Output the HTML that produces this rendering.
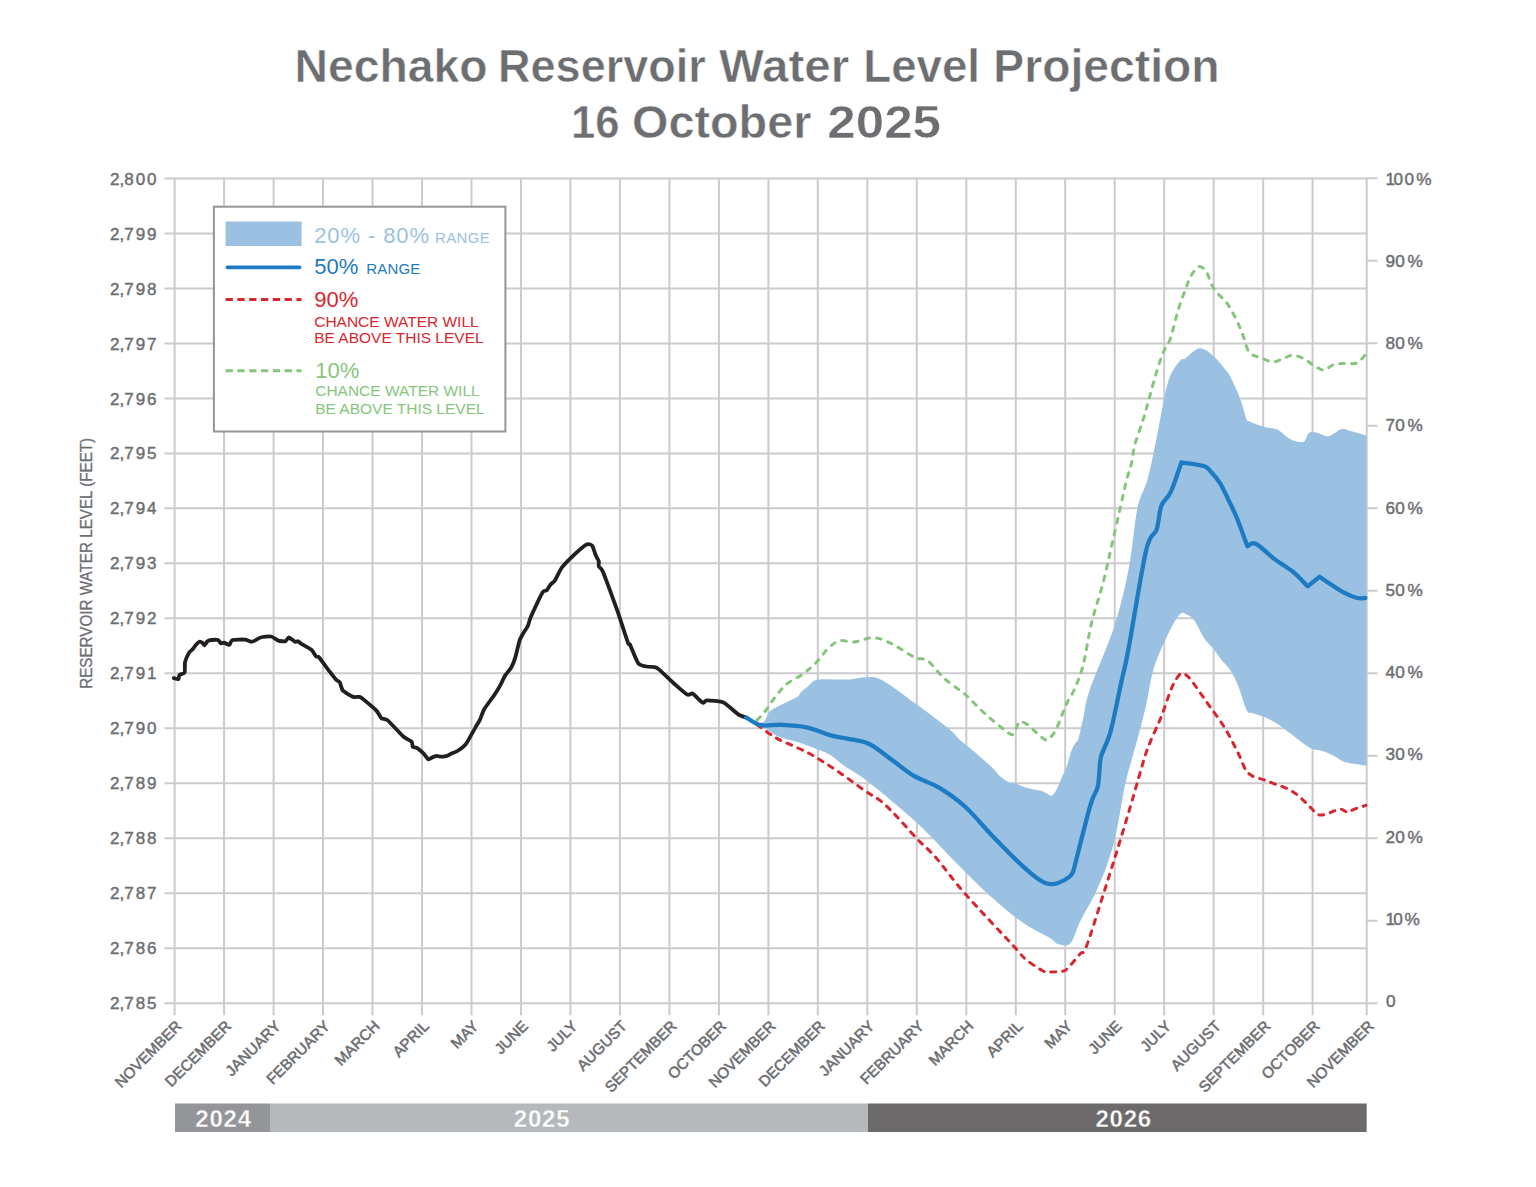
<!DOCTYPE html>
<html><head><meta charset="utf-8"><title>Nechako Reservoir Water Level Projection</title>
<style>html,body{margin:0;padding:0;background:#fff;}body{width:1536px;height:1187px;position:relative;overflow:hidden;font-family:"Liberation Sans",sans-serif;}</style>
</head><body>
<svg width="1536" height="1187" viewBox="0 0 1536 1187" style="position:absolute;left:0;top:0">
<path d="M164.5 178.4H1366.7 M164.5 233.4H1366.7 M164.5 288.4H1366.7 M164.5 343.4H1366.7 M164.5 398.4H1366.7 M164.5 453.4H1366.7 M164.5 508.3H1366.7 M164.5 563.3H1366.7 M164.5 618.3H1366.7 M164.5 673.3H1366.7 M164.5 728.3H1366.7 M164.5 783.3H1366.7 M164.5 838.3H1366.7 M164.5 893.3H1366.7 M164.5 948.3H1366.7 M164.5 1003.2H1366.7 M174.6 178.4V1015.2 M224.1 178.4V1015.2 M273.6 178.4V1015.2 M323.0 178.4V1015.2 M372.5 178.4V1015.2 M422.0 178.4V1015.2 M471.5 178.4V1015.2 M521.0 178.4V1015.2 M570.4 178.4V1015.2 M619.9 178.4V1015.2 M669.4 178.4V1015.2 M718.9 178.4V1015.2 M768.4 178.4V1015.2 M817.8 178.4V1015.2 M867.3 178.4V1015.2 M916.8 178.4V1015.2 M966.3 178.4V1015.2 M1015.8 178.4V1015.2 M1065.2 178.4V1015.2 M1114.7 178.4V1015.2 M1164.2 178.4V1015.2 M1213.7 178.4V1015.2 M1263.2 178.4V1015.2 M1312.6 178.4V1015.2 M1366.7 178.4V1015.2 M1366.7 1003.2H1377.5 M1366.7 920.8H1377.5 M1366.7 838.2H1377.5 M1366.7 755.8H1377.5 M1366.7 673.2H1377.5 M1366.7 590.8H1377.5 M1366.7 508.2H1377.5 M1366.7 425.8H1377.5 M1366.7 343.2H1377.5 M1366.7 260.8H1377.5 M1366.7 178.2H1377.5" stroke="#cbcbce" stroke-width="2" fill="none"/>
<path d="M755.0 723.0 C756.5 722.8 761.1 723.8 763.7 721.8 C766.3 719.8 767.0 714.0 770.4 711.0 C773.8 708.0 779.4 706.0 783.9 703.6 C788.4 701.2 794.5 698.7 797.4 696.8 C800.2 694.9 799.3 693.8 801.0 692.1 C802.7 690.4 805.0 688.7 807.5 686.7 C810.0 684.7 811.9 681.2 816.3 680.0 C820.7 678.8 828.1 679.5 833.8 679.4 C839.4 679.3 845.2 679.8 850.4 679.4 C855.6 679.0 859.8 677.2 865.0 677.3 C870.2 677.4 873.4 675.7 881.7 680.0 C890.0 684.3 903.9 695.2 915.0 703.3 C926.1 711.3 940.8 722.2 948.3 728.3 C955.8 734.4 956.5 736.8 960.0 740.0 C963.5 743.2 965.4 744.2 969.3 747.5 C973.2 750.8 979.0 755.8 983.2 759.5 C987.4 763.2 991.5 766.9 994.3 769.7 C997.1 772.5 997.6 774.2 999.9 776.2 C1002.2 778.2 1005.6 780.6 1008.2 781.8 C1010.8 783.0 1012.8 782.7 1015.6 783.6 C1018.4 784.5 1021.8 786.3 1024.9 787.3 C1028.0 788.3 1031.3 789.0 1034.1 789.6 C1036.9 790.2 1039.4 790.3 1041.6 791.0 C1043.8 791.7 1045.4 793.0 1047.1 793.8 C1048.8 794.6 1050.2 796.3 1051.8 795.7 C1053.3 795.1 1054.7 793.2 1056.4 790.1 C1058.1 787.0 1060.2 781.0 1061.9 777.1 C1063.6 773.2 1065.0 771.2 1066.6 766.9 C1068.1 762.6 1069.8 755.1 1071.2 751.2 C1072.6 747.4 1073.7 746.0 1074.9 743.8 C1076.1 741.6 1077.2 742.5 1078.6 738.2 C1080.0 733.9 1081.4 725.8 1083.3 717.8 C1085.2 709.8 1084.5 705.3 1089.7 690.0 C1094.9 674.7 1107.9 646.2 1114.4 626.0 C1120.9 605.8 1124.9 588.3 1128.7 568.8 C1132.5 549.2 1134.2 523.6 1137.3 508.7 C1140.4 493.8 1144.4 490.7 1147.5 479.6 C1150.6 468.5 1153.0 455.7 1155.8 442.1 C1158.6 428.6 1161.8 409.4 1164.2 398.3 C1166.6 387.2 1167.6 381.8 1170.4 375.4 C1173.2 369.0 1178.4 362.6 1180.8 359.8 C1183.2 357.0 1181.9 360.7 1185.0 358.8 C1188.1 356.8 1194.7 348.6 1199.6 348.3 C1204.5 348.0 1209.7 352.9 1214.2 356.7 C1218.7 360.5 1224.1 368.0 1226.7 371.2 C1229.3 374.5 1227.8 371.6 1230.0 376.0 C1232.2 380.4 1237.2 390.8 1239.9 397.9 C1242.6 405.0 1245.0 414.8 1246.4 418.7 C1247.8 422.6 1245.8 419.7 1248.5 421.0 C1251.2 422.3 1258.7 425.1 1262.9 426.4 C1267.1 427.7 1271.1 427.9 1273.8 428.6 C1276.5 429.3 1276.8 429.2 1279.3 430.8 C1281.8 432.4 1286.0 436.6 1289.1 438.4 C1292.2 440.2 1295.3 441.2 1297.9 441.7 C1300.5 442.2 1302.7 442.6 1304.5 441.2 C1306.3 439.8 1306.9 434.5 1308.9 433.0 C1310.9 431.5 1313.2 431.9 1316.5 432.4 C1319.8 432.9 1324.4 436.8 1328.6 436.2 C1332.8 435.6 1337.9 429.9 1341.7 429.1 C1345.5 428.3 1347.5 430.2 1351.6 431.3 C1355.7 432.4 1364.0 435.0 1366.5 435.7 L1366.5 765.8 C1364.4 765.5 1357.7 764.5 1353.9 763.8 C1350.1 763.1 1347.2 763.1 1343.8 761.8 C1340.4 760.4 1337.4 757.6 1333.7 755.7 C1330.0 753.9 1325.6 752.1 1321.6 750.7 C1317.5 749.4 1316.2 751.7 1309.4 747.6 C1302.7 743.5 1288.5 731.5 1281.1 726.4 C1273.7 721.3 1269.6 719.5 1264.9 717.3 C1260.2 715.1 1255.8 714.4 1252.8 713.2 C1249.8 712.0 1249.1 714.6 1246.7 710.2 C1244.3 705.8 1241.3 693.6 1238.6 687.0 C1235.9 680.4 1233.6 675.5 1230.6 670.8 C1227.6 666.1 1223.4 662.5 1220.4 658.6 C1217.4 654.7 1215.1 650.9 1212.4 647.5 C1209.7 644.1 1207.3 642.9 1204.3 638.4 C1201.3 633.9 1197.2 624.2 1194.2 620.2 C1191.2 616.2 1188.4 615.2 1186.0 614.2 C1183.6 613.2 1182.5 611.8 1180.0 614.2 C1177.5 616.6 1175.1 620.0 1170.8 628.7 C1166.5 637.4 1158.4 653.6 1154.3 666.5 C1150.2 679.4 1148.9 693.4 1145.9 706.2 C1142.9 719.0 1139.8 730.2 1136.4 743.1 C1133.0 756.0 1128.7 768.8 1125.3 783.9 C1121.9 799.0 1119.1 820.3 1116.0 833.9 C1112.9 847.5 1110.1 855.8 1106.8 865.5 C1103.5 875.2 1098.5 886.2 1096.0 892.0 C1093.5 897.8 1094.6 895.0 1091.9 900.0 C1089.2 905.0 1083.6 914.6 1080.0 921.8 C1076.4 929.0 1074.1 939.5 1070.4 943.2 C1066.7 946.9 1061.4 944.9 1058.0 944.0 C1054.6 943.1 1056.0 941.7 1049.9 938.0 C1043.8 934.3 1032.4 929.6 1021.6 921.8 C1010.8 914.0 997.1 902.2 985.2 891.4 C973.4 880.6 961.9 868.4 950.5 857.0 C939.1 845.6 930.5 835.4 917.0 823.0 C903.5 810.6 881.3 792.0 869.2 782.5 C857.1 773.0 850.7 770.4 844.2 765.8 C837.7 761.2 834.4 757.5 830.0 754.8 C825.6 752.1 823.0 751.5 817.6 749.4 C812.2 747.3 804.1 744.2 797.4 742.0 C790.7 739.8 782.8 738.4 777.2 735.9 C771.6 733.4 767.4 729.1 763.7 727.2 C760.0 725.3 756.5 725.0 755.0 724.5 Z" fill="#9bc1e2"/>
<path d="M757.0 724.8 C759.5 726.5 767.6 732.5 771.7 735.2 C775.8 737.9 775.5 737.8 781.7 740.8 C787.9 743.8 799.7 748.4 808.8 753.3 C817.8 758.2 826.4 763.8 835.8 770.0 C845.2 776.2 857.6 785.7 865.0 790.8 C872.4 795.9 875.1 796.6 880.0 800.4 C884.9 804.2 888.0 807.4 894.2 813.8 C900.4 820.1 910.1 831.5 917.0 838.8 C923.9 846.0 927.8 848.4 935.8 857.5 C943.8 866.6 951.9 878.8 964.9 893.5 C977.9 908.2 1003.4 935.0 1013.5 946.0 C1023.6 957.0 1020.9 955.2 1025.6 959.2 C1030.3 963.2 1038.1 968.2 1041.8 970.3 C1045.5 972.4 1044.6 971.8 1048.0 972.0 C1051.4 972.2 1058.8 971.8 1062.0 971.3 C1065.2 970.8 1064.2 971.7 1067.2 968.8 C1070.2 965.9 1076.8 957.8 1080.0 954.1 C1083.2 950.4 1082.6 956.2 1086.4 946.4 C1090.2 936.6 1098.5 909.5 1103.1 895.1 C1107.7 880.7 1111.1 869.8 1114.2 859.9 C1117.3 850.0 1118.5 846.0 1121.6 835.8 C1124.7 825.6 1129.0 811.4 1132.7 798.7 C1136.4 786.0 1141.0 769.2 1143.9 759.7 C1146.9 750.2 1147.9 747.8 1150.4 741.6 C1152.9 735.4 1156.6 727.7 1158.7 722.7 C1160.8 717.8 1161.1 717.4 1163.1 711.9 C1165.1 706.4 1168.7 695.2 1170.8 690.0 C1172.9 684.8 1173.9 683.2 1175.5 680.5 C1177.1 677.8 1178.8 674.8 1180.5 673.8 C1182.2 672.8 1183.7 673.4 1185.5 674.5 C1187.3 675.6 1189.1 677.5 1191.5 680.5 C1193.9 683.5 1196.9 688.0 1200.0 692.5 C1203.1 697.0 1206.2 701.4 1210.3 707.2 C1214.4 713.0 1220.3 720.6 1224.5 727.4 C1228.7 734.2 1233.0 742.9 1235.7 748.1 C1238.4 753.4 1239.2 755.3 1240.8 758.9 C1242.4 762.5 1244.0 767.0 1245.5 769.6 C1247.0 772.2 1248.2 773.2 1250.0 774.5 C1251.8 775.8 1253.7 776.6 1256.0 777.5 C1258.3 778.4 1260.8 778.7 1264.0 779.8 C1267.2 780.9 1271.4 782.7 1275.1 784.1 C1278.8 785.5 1282.8 786.6 1286.3 788.2 C1289.8 789.8 1292.9 791.6 1296.0 793.9 C1299.1 796.1 1302.2 799.3 1304.8 801.7 C1307.4 804.1 1309.3 806.2 1311.4 808.3 C1313.5 810.4 1315.1 813.4 1317.5 814.4 C1319.9 815.4 1321.9 815.2 1325.6 814.4 C1329.3 813.5 1336.1 809.6 1339.8 809.3 C1343.5 808.9 1345.4 812.3 1347.8 812.3 C1350.2 812.3 1350.9 810.5 1353.9 809.3 C1356.9 808.1 1364.0 806.0 1366.0 805.3" fill="none" stroke="#d8262e" stroke-width="3" stroke-dasharray="5 6.8" stroke-linecap="round" stroke-linejoin="round"/>
<path d="M757.0 720.0 C757.8 719.2 760.4 716.7 762.0 715.0 C763.6 713.3 764.8 711.8 766.4 709.6 C768.0 707.4 769.7 704.5 771.8 701.6 C773.9 698.7 776.7 695.0 779.2 692.1 C781.7 689.2 782.7 687.0 786.6 684.0 C790.5 681.0 797.8 677.6 802.5 674.2 C807.2 670.8 810.5 668.3 815.0 663.8 C819.5 659.2 825.4 650.8 829.6 647.0 C833.8 643.2 835.8 641.6 840.0 640.8 C844.2 639.9 849.1 642.4 854.6 641.9 C860.1 641.4 867.4 637.5 873.3 637.7 C879.2 637.9 883.0 639.6 890.0 642.9 C897.0 646.2 908.8 654.5 915.0 657.5 C921.2 660.5 922.6 657.1 927.5 660.6 C932.4 664.1 938.3 673.0 944.2 678.3 C950.1 683.6 958.6 689.2 962.8 692.5 C967.0 695.8 966.8 695.9 969.3 698.3 C971.8 700.7 974.8 704.0 977.6 706.7 C980.4 709.4 983.1 712.0 986.0 714.6 C988.9 717.2 992.1 719.9 995.2 722.4 C998.3 724.9 1001.9 727.9 1004.5 729.9 C1007.1 731.9 1009.3 734.0 1011.0 734.5 C1012.7 735.0 1013.4 734.5 1014.5 733.0 C1015.6 731.5 1016.6 727.1 1017.5 725.2 C1018.4 723.3 1018.3 721.6 1020.0 721.5 C1021.7 721.4 1024.9 722.9 1027.7 724.8 C1030.5 726.7 1034.2 730.7 1036.9 733.1 C1039.6 735.5 1042.2 737.9 1044.0 739.0 C1045.8 740.1 1045.9 740.4 1047.5 739.5 C1049.1 738.6 1051.6 736.5 1053.6 733.6 C1055.5 730.8 1057.5 726.3 1059.2 722.4 C1060.9 718.5 1062.3 714.1 1063.8 710.4 C1065.3 706.7 1066.7 703.6 1068.4 700.2 C1070.1 696.8 1071.6 695.7 1074.0 690.0 C1076.4 684.3 1080.0 677.2 1082.9 666.1 C1085.8 655.0 1088.2 637.0 1091.5 623.2 C1094.8 609.4 1099.7 596.0 1103.0 583.1 C1106.3 570.2 1108.8 558.3 1111.6 545.9 C1114.4 533.5 1117.6 519.8 1120.1 508.7 C1122.6 497.6 1124.8 487.2 1126.7 479.6 C1128.6 472.0 1130.2 468.8 1131.6 462.9 C1133.0 457.0 1133.0 451.5 1135.0 444.2 C1137.0 436.9 1141.0 426.7 1143.3 419.2 C1145.6 411.7 1147.0 406.1 1149.0 399.0 C1151.0 391.9 1153.0 383.9 1155.3 376.3 C1157.6 368.7 1160.3 359.8 1162.8 353.5 C1165.3 347.2 1167.9 345.5 1170.4 338.4 C1172.9 331.2 1175.5 318.8 1178.0 310.6 C1180.5 302.4 1183.4 294.8 1185.6 289.0 C1187.8 283.2 1188.9 279.7 1191.0 276.0 C1193.1 272.3 1196.2 268.3 1198.2 267.0 C1200.2 265.7 1201.5 267.1 1203.0 268.0 C1204.5 268.9 1205.5 269.8 1207.0 272.7 C1208.5 275.6 1210.1 281.8 1212.0 285.4 C1213.9 289.0 1216.1 291.5 1218.4 294.2 C1220.7 296.9 1223.7 298.9 1226.0 301.8 C1228.3 304.8 1230.2 308.1 1232.3 311.9 C1234.4 315.7 1236.7 320.3 1238.6 324.5 C1240.5 328.7 1241.8 332.5 1243.6 337.1 C1245.4 341.7 1246.4 348.8 1249.3 352.3 C1252.2 355.8 1256.8 356.3 1260.7 357.9 C1264.6 359.5 1269.1 361.6 1272.7 361.8 C1276.3 362.0 1279.3 360.1 1282.6 359.0 C1285.9 357.9 1288.8 355.2 1292.4 355.2 C1296.1 355.2 1301.0 357.4 1304.5 359.0 C1308.0 360.6 1310.0 363.2 1313.2 365.0 C1316.4 366.8 1320.1 370.1 1323.6 370.0 C1327.1 369.9 1330.3 365.6 1334.0 364.5 C1337.7 363.4 1341.7 363.7 1345.5 363.4 C1349.3 363.1 1353.6 364.5 1357.0 362.9 C1360.4 361.3 1364.5 355.5 1366.0 354.0" fill="none" stroke="#86c67c" stroke-width="3" stroke-dasharray="4.6 7.2" stroke-linecap="round" stroke-linejoin="round"/>
<path d="M173.8 678.1 C174.2 678.2 177.7 679.5 178.3 679.2 C178.9 678.9 178.8 675.7 179.4 675.0 C180.0 674.3 184.0 673.8 184.6 672.5 C185.2 671.2 184.6 664.4 185.0 662.5 C185.4 660.6 188.0 654.5 188.8 653.1 C189.5 651.8 192.2 649.8 192.9 649.0 C193.6 648.2 195.4 645.5 196.0 644.8 C196.6 644.1 198.6 641.9 199.2 641.7 C199.8 641.5 201.8 642.3 202.3 642.7 C202.8 643.1 203.9 645.5 204.4 645.4 C204.9 645.3 206.8 641.8 207.5 641.2 C208.2 640.7 210.7 640.1 211.7 640.0 C212.7 639.9 217.0 639.7 217.9 640.0 C218.8 640.3 220.4 643.0 221.0 643.3 C221.6 643.6 223.4 642.6 224.2 642.7 C225.0 642.9 228.6 645.1 229.4 644.8 C230.2 644.5 230.9 640.5 232.5 640.0 C234.1 639.5 243.0 639.4 245.0 639.6 C247.0 639.8 250.7 641.9 252.3 641.7 C253.9 641.5 258.7 638.0 260.6 637.5 C262.5 637.0 269.2 636.2 271.0 636.5 C272.8 636.8 276.8 640.1 278.3 640.6 C279.8 641.1 284.6 641.6 285.6 641.2 C286.6 640.9 287.8 637.5 288.8 637.5 C289.7 637.5 294.1 641.3 295.0 641.7 C295.9 642.1 297.4 641.0 298.0 641.2 C298.6 641.5 299.9 642.9 301.2 643.8 C302.6 644.6 310.2 648.8 311.7 650.0 C313.2 651.2 315.1 655.5 315.8 656.2 C316.5 657.0 317.8 655.9 319.0 657.3 C320.2 658.7 326.6 667.6 328.3 669.8 C330.0 672.0 334.5 678.0 335.6 679.2 C336.8 680.5 339.1 681.2 339.8 682.3 C340.5 683.4 341.5 689.1 342.9 690.6 C344.2 692.1 351.6 696.3 353.3 696.9 C355.0 697.5 358.6 696.6 359.6 696.9 C360.6 697.2 362.1 698.2 363.8 699.6 C365.4 701.0 374.5 708.5 376.2 710.4 C378.0 712.3 380.4 717.3 381.5 718.3 C382.6 719.3 385.5 718.6 387.7 720.4 C389.9 722.2 400.9 734.4 403.3 736.5 C405.7 738.6 410.8 740.7 411.7 741.7 C412.6 742.7 412.2 746.3 412.7 746.9 C413.2 747.5 415.8 747.2 416.9 747.9 C418.0 748.6 423.1 753.1 424.2 754.2 C425.3 755.4 427.5 759.1 428.3 759.4 C429.1 759.7 431.7 757.7 432.5 757.3 C433.3 756.9 435.9 755.9 436.7 755.8 C437.5 755.7 439.8 756.7 440.8 756.7 C441.8 756.7 446.2 756.0 447.1 755.8 C448.0 755.5 449.2 754.7 450.2 754.2 C451.2 753.7 455.9 752.0 457.5 751.0 C459.1 750.0 464.4 745.8 465.8 744.2 C467.2 742.6 470.0 737.2 471.0 735.4 C472.0 733.6 475.4 727.6 476.2 726.0 C477.1 724.4 479.2 721.3 480.0 719.6 C480.8 717.9 482.7 711.7 484.2 709.2 C485.7 706.7 493.0 696.9 494.6 694.6 C496.2 692.3 498.8 688.1 499.8 686.2 C500.8 684.4 503.9 677.7 505.0 675.8 C506.1 673.9 510.2 669.4 511.2 667.5 C512.3 665.6 514.6 659.8 515.4 657.1 C516.2 654.4 518.9 642.7 519.6 640.4 C520.3 638.1 521.9 635.7 522.7 634.2 C523.5 632.7 527.1 627.6 527.9 625.8 C528.7 624.0 529.5 619.8 531.0 616.5 C532.5 613.2 540.9 595.1 542.5 592.5 C544.1 589.9 545.9 591.2 546.7 590.4 C547.5 589.6 550.0 585.2 550.8 584.2 C551.6 583.2 554.0 582.0 555.0 580.4 C556.0 578.8 559.8 570.6 561.2 568.5 C562.7 566.4 567.5 561.3 569.6 559.2 C571.7 557.1 580.2 549.2 582.1 547.7 C584.0 546.2 587.3 544.3 588.3 544.2 C589.3 544.1 591.8 545.2 592.5 546.2 C593.2 547.3 595.0 553.5 595.6 555.0 C596.2 556.5 598.4 560.1 598.8 561.2 C599.1 562.4 598.3 565.5 598.8 566.5 C599.2 567.5 601.0 567.2 602.9 571.7 C604.8 576.2 615.0 604.2 617.5 611.2 C620.0 618.3 626.6 639.2 627.9 642.5 C629.1 645.8 629.0 642.5 630.0 644.6 C631.0 646.7 636.6 661.1 638.3 663.3 C640.0 665.5 645.0 666.1 646.7 666.5 C648.4 666.9 653.8 666.8 655.0 667.1 C656.2 667.4 657.1 667.8 659.2 669.6 C661.3 671.4 673.0 682.7 675.8 685.2 C678.6 687.7 685.6 693.8 687.3 694.6 C689.0 695.4 691.5 693.1 692.5 693.5 C693.5 693.9 696.7 697.4 697.7 698.3 C698.7 699.2 702.0 702.7 702.9 702.9 C703.8 703.1 705.2 700.5 707.1 700.4 C709.0 700.3 719.8 701.5 721.7 701.9 C723.6 702.3 724.1 702.8 725.8 704.0 C727.5 705.2 736.3 713.0 738.3 714.4 C740.3 715.8 745.5 717.2 746.2 717.5" fill="none" stroke="#231f20" stroke-width="3.8" stroke-linejoin="round" stroke-linecap="round"/>
<path d="M746.2 717.5 C748.7 718.8 754.9 724.0 760.8 725.2 C766.7 726.4 774.1 724.4 781.7 724.8 C789.4 725.1 798.4 725.5 806.7 727.3 C815.0 729.1 824.8 733.7 831.7 735.6 C838.6 737.5 842.0 737.4 848.3 738.8 C854.5 740.1 861.9 740.5 869.2 744.0 C876.5 747.5 884.6 754.6 892.1 760.0 C899.6 765.4 906.6 771.7 914.4 776.2 C922.1 780.8 930.2 782.2 938.6 787.3 C947.0 792.3 955.8 798.2 964.9 806.5 C974.0 814.8 983.8 827.0 993.2 836.8 C1002.7 846.6 1013.8 858.0 1021.6 865.2 C1029.4 872.5 1035.4 877.2 1040.0 880.3 C1044.6 883.4 1046.3 883.5 1049.3 884.0 C1052.3 884.5 1054.6 884.2 1058.0 883.0 C1061.4 881.8 1067.1 878.6 1069.7 876.6 C1072.3 874.6 1072.8 871.9 1073.4 871.0 L1073.4 871.0 C1076.2 860.2 1086.1 820.0 1090.1 806.1 C1094.1 792.2 1096.0 793.2 1097.5 787.6 C1099.0 782.0 1098.7 778.0 1099.3 772.7 C1099.9 767.4 1099.3 762.8 1101.2 756.0 C1103.1 749.2 1107.1 744.4 1110.5 731.9 C1113.9 719.4 1118.6 694.4 1121.6 680.8 C1124.6 667.1 1124.2 671.6 1128.3 650.0 C1132.4 628.4 1141.3 571.0 1146.0 550.9 C1150.7 530.8 1154.0 537.1 1156.6 529.6 C1159.1 522.1 1158.9 512.3 1161.3 506.0 C1163.7 499.7 1167.4 499.2 1170.8 491.9 C1174.2 484.6 1179.6 467.3 1181.4 462.4 L1181.4 462.4 C1185.1 463.0 1198.9 464.4 1203.8 466.0 C1208.7 467.6 1208.2 468.9 1210.9 471.8 C1213.7 474.7 1217.3 478.9 1220.3 483.6 C1223.2 488.3 1225.8 494.5 1228.6 500.2 C1231.3 505.9 1233.7 510.1 1236.8 517.8 C1239.9 525.5 1245.6 541.5 1247.4 546.2 L1247.4 546.2 C1248.8 545.8 1251.2 541.6 1255.7 543.8 C1260.2 545.9 1268.3 554.4 1274.6 559.1 C1280.9 563.8 1287.9 567.6 1293.4 572.1 C1298.9 576.6 1305.2 583.9 1307.6 586.3 L1307.6 586.3 C1309.6 584.7 1317.4 578.4 1319.4 576.8 L1319.4 576.8 C1323.3 579.4 1336.7 588.7 1343.0 592.2 C1349.3 595.7 1353.4 597.0 1357.1 598.0 C1360.8 599.0 1364.0 598.0 1365.4 598.0" fill="none" stroke="#1c7bc2" stroke-width="4.3" stroke-linejoin="round" stroke-linecap="round"/>
<rect x="213.9" y="206.7" width="291.5" height="224.8" fill="#fff" stroke="#939598" stroke-width="2"/>
<rect x="225.6" y="221.5" width="76" height="24.5" fill="#9bc1e2"/>
<line x1="227.5" y1="267.3" x2="299.5" y2="267.3" stroke="#1c7bc2" stroke-width="3.8" stroke-linecap="round"/>
<line x1="225.6" y1="299.6" x2="301.5" y2="299.6" stroke="#d8262e" stroke-width="3" stroke-dasharray="7.3 4.5"/>
<line x1="225.6" y1="370.8" x2="301.5" y2="370.8" stroke="#86c67c" stroke-width="3" stroke-dasharray="7.3 4.5"/>
<text x="314.2" y="242.5" font-family="Liberation Sans, sans-serif" font-size="22" fill="#9bc1e2" text-anchor="start" font-weight="normal" ><tspan letter-spacing="0.9">20% - 80%</tspan><tspan font-size="15" dx="5" letter-spacing="0.4">RANGE</tspan></text>
<text x="314.2" y="274.2" font-family="Liberation Sans, sans-serif" font-size="22" fill="#1c7bc2" text-anchor="start" font-weight="normal" >50%<tspan font-size="15" dx="8" letter-spacing="0.2">RANGE</tspan></text>
<text x="314.2" y="306.5" font-family="Liberation Sans, sans-serif" font-size="22" fill="#d8262e" text-anchor="start" font-weight="normal" >90%</text>
<text x="314.2" y="326.7" font-family="Liberation Sans, sans-serif" font-size="15.5" fill="#d8262e" text-anchor="start" font-weight="normal" >CHANCE WATER WILL</text>
<text x="314.2" y="342.7" font-family="Liberation Sans, sans-serif" font-size="15.5" fill="#d8262e" text-anchor="start" font-weight="normal" >BE ABOVE THIS LEVEL</text>
<text x="315.2" y="377.5" font-family="Liberation Sans, sans-serif" font-size="22" fill="#86c67c" text-anchor="start" font-weight="normal" >10%</text>
<text x="315.2" y="396.3" font-family="Liberation Sans, sans-serif" font-size="15.5" fill="#86c67c" text-anchor="start" font-weight="normal" >CHANCE WATER WILL</text>
<text x="315.2" y="413.5" font-family="Liberation Sans, sans-serif" font-size="15.5" fill="#86c67c" text-anchor="start" font-weight="normal" >BE ABOVE THIS LEVEL</text>
<text x="109.9 119.6 124.2 135.8 147.0" y="184.9" font-family="Liberation Sans, sans-serif" font-size="17" fill="#6d6e71" text-anchor="start" font-weight="normal" stroke="#6d6e71" stroke-width="0.45">2,800</text>
<text x="109.9 119.6 124.2 135.8 147.0" y="239.8" font-family="Liberation Sans, sans-serif" font-size="17" fill="#6d6e71" text-anchor="start" font-weight="normal" stroke="#6d6e71" stroke-width="0.45">2,799</text>
<text x="109.9 119.6 124.2 135.8 147.0" y="294.7" font-family="Liberation Sans, sans-serif" font-size="17" fill="#6d6e71" text-anchor="start" font-weight="normal" stroke="#6d6e71" stroke-width="0.45">2,798</text>
<text x="109.9 119.6 124.2 135.8 147.0" y="349.6" font-family="Liberation Sans, sans-serif" font-size="17" fill="#6d6e71" text-anchor="start" font-weight="normal" stroke="#6d6e71" stroke-width="0.45">2,797</text>
<text x="109.9 119.6 124.2 135.8 147.0" y="404.5" font-family="Liberation Sans, sans-serif" font-size="17" fill="#6d6e71" text-anchor="start" font-weight="normal" stroke="#6d6e71" stroke-width="0.45">2,796</text>
<text x="109.9 119.6 124.2 135.8 147.0" y="459.4" font-family="Liberation Sans, sans-serif" font-size="17" fill="#6d6e71" text-anchor="start" font-weight="normal" stroke="#6d6e71" stroke-width="0.45">2,795</text>
<text x="109.9 119.6 124.2 135.8 147.0" y="514.4" font-family="Liberation Sans, sans-serif" font-size="17" fill="#6d6e71" text-anchor="start" font-weight="normal" stroke="#6d6e71" stroke-width="0.45">2,794</text>
<text x="109.9 119.6 124.2 135.8 147.0" y="569.3" font-family="Liberation Sans, sans-serif" font-size="17" fill="#6d6e71" text-anchor="start" font-weight="normal" stroke="#6d6e71" stroke-width="0.45">2,793</text>
<text x="109.9 119.6 124.2 135.8 147.0" y="624.2" font-family="Liberation Sans, sans-serif" font-size="17" fill="#6d6e71" text-anchor="start" font-weight="normal" stroke="#6d6e71" stroke-width="0.45">2,792</text>
<text x="109.9 119.6 124.2 135.8 147.0" y="679.1" font-family="Liberation Sans, sans-serif" font-size="17" fill="#6d6e71" text-anchor="start" font-weight="normal" stroke="#6d6e71" stroke-width="0.45">2,791</text>
<text x="109.9 119.6 124.2 135.8 147.0" y="734.0" font-family="Liberation Sans, sans-serif" font-size="17" fill="#6d6e71" text-anchor="start" font-weight="normal" stroke="#6d6e71" stroke-width="0.45">2,790</text>
<text x="109.9 119.6 124.2 135.8 147.0" y="788.9" font-family="Liberation Sans, sans-serif" font-size="17" fill="#6d6e71" text-anchor="start" font-weight="normal" stroke="#6d6e71" stroke-width="0.45">2,789</text>
<text x="109.9 119.6 124.2 135.8 147.0" y="843.8" font-family="Liberation Sans, sans-serif" font-size="17" fill="#6d6e71" text-anchor="start" font-weight="normal" stroke="#6d6e71" stroke-width="0.45">2,788</text>
<text x="109.9 119.6 124.2 135.8 147.0" y="898.7" font-family="Liberation Sans, sans-serif" font-size="17" fill="#6d6e71" text-anchor="start" font-weight="normal" stroke="#6d6e71" stroke-width="0.45">2,787</text>
<text x="109.9 119.6 124.2 135.8 147.0" y="953.6" font-family="Liberation Sans, sans-serif" font-size="17" fill="#6d6e71" text-anchor="start" font-weight="normal" stroke="#6d6e71" stroke-width="0.45">2,786</text>
<text x="109.9 119.6 124.2 135.8 147.0" y="1008.5" font-family="Liberation Sans, sans-serif" font-size="17" fill="#6d6e71" text-anchor="start" font-weight="normal" stroke="#6d6e71" stroke-width="0.45">2,785</text>
<text x="1386" y="1007.0" font-family="Liberation Sans, sans-serif" font-size="17.2" fill="#6d6e71" text-anchor="start" font-weight="normal" stroke="#6d6e71" stroke-width="0.45">0</text>
<text x="1385.4 1393.3 1404.6" y="924.8" font-family="Liberation Sans, sans-serif" font-size="17.2" fill="#6d6e71" text-anchor="start" font-weight="normal" stroke="#6d6e71" stroke-width="0.45">10%</text>
<text x="1385.6 1395.3 1407.4" y="842.5" font-family="Liberation Sans, sans-serif" font-size="17.2" fill="#6d6e71" text-anchor="start" font-weight="normal" stroke="#6d6e71" stroke-width="0.45">20%</text>
<text x="1385.6 1395.3 1407.4" y="760.2" font-family="Liberation Sans, sans-serif" font-size="17.2" fill="#6d6e71" text-anchor="start" font-weight="normal" stroke="#6d6e71" stroke-width="0.45">30%</text>
<text x="1385.6 1395.3 1407.4" y="678.0" font-family="Liberation Sans, sans-serif" font-size="17.2" fill="#6d6e71" text-anchor="start" font-weight="normal" stroke="#6d6e71" stroke-width="0.45">40%</text>
<text x="1385.6 1395.3 1407.4" y="595.8" font-family="Liberation Sans, sans-serif" font-size="17.2" fill="#6d6e71" text-anchor="start" font-weight="normal" stroke="#6d6e71" stroke-width="0.45">50%</text>
<text x="1385.6 1395.3 1407.4" y="513.5" font-family="Liberation Sans, sans-serif" font-size="17.2" fill="#6d6e71" text-anchor="start" font-weight="normal" stroke="#6d6e71" stroke-width="0.45">60%</text>
<text x="1385.6 1395.3 1407.4" y="431.2" font-family="Liberation Sans, sans-serif" font-size="17.2" fill="#6d6e71" text-anchor="start" font-weight="normal" stroke="#6d6e71" stroke-width="0.45">70%</text>
<text x="1385.6 1395.3 1407.4" y="349.0" font-family="Liberation Sans, sans-serif" font-size="17.2" fill="#6d6e71" text-anchor="start" font-weight="normal" stroke="#6d6e71" stroke-width="0.45">80%</text>
<text x="1385.6 1395.3 1407.4" y="266.8" font-family="Liberation Sans, sans-serif" font-size="17.2" fill="#6d6e71" text-anchor="start" font-weight="normal" stroke="#6d6e71" stroke-width="0.45">90%</text>
<text x="1385.4 1393.5 1404.5 1416.2" y="184.5" font-family="Liberation Sans, sans-serif" font-size="17.2" fill="#6d6e71" text-anchor="start" font-weight="normal" stroke="#6d6e71" stroke-width="0.45">100%</text>
<text transform="translate(91.9 563.3) rotate(-90)" font-family="Liberation Sans, sans-serif" font-size="16.5" fill="#6d6e71" text-anchor="middle" textLength="251" lengthAdjust="spacingAndGlyphs" stroke="#6d6e71" stroke-width="0.3">RESERVOIR WATER LEVEL (FEET)</text>
<text transform="translate(182.6 1027) rotate(-45)" font-family="Liberation Sans, sans-serif" font-size="15.2" fill="#6d6e71" text-anchor="end" stroke="#6d6e71" stroke-width="0.55">NOVEMBER</text>
<text transform="translate(232.1 1027) rotate(-45)" font-family="Liberation Sans, sans-serif" font-size="15.2" fill="#6d6e71" text-anchor="end" stroke="#6d6e71" stroke-width="0.55">DECEMBER</text>
<text transform="translate(281.6 1027) rotate(-45)" font-family="Liberation Sans, sans-serif" font-size="15.2" fill="#6d6e71" text-anchor="end" stroke="#6d6e71" stroke-width="0.55">JANUARY</text>
<text transform="translate(331.0 1027) rotate(-45)" font-family="Liberation Sans, sans-serif" font-size="15.2" fill="#6d6e71" text-anchor="end" stroke="#6d6e71" stroke-width="0.55">FEBRUARY</text>
<text transform="translate(380.5 1027) rotate(-45)" font-family="Liberation Sans, sans-serif" font-size="15.2" fill="#6d6e71" text-anchor="end" stroke="#6d6e71" stroke-width="0.55">MARCH</text>
<text transform="translate(430.0 1027) rotate(-45)" font-family="Liberation Sans, sans-serif" font-size="15.2" fill="#6d6e71" text-anchor="end" stroke="#6d6e71" stroke-width="0.55">APRIL</text>
<text transform="translate(479.5 1027) rotate(-45)" font-family="Liberation Sans, sans-serif" font-size="15.2" fill="#6d6e71" text-anchor="end" stroke="#6d6e71" stroke-width="0.55">MAY</text>
<text transform="translate(529.0 1027) rotate(-45)" font-family="Liberation Sans, sans-serif" font-size="15.2" fill="#6d6e71" text-anchor="end" stroke="#6d6e71" stroke-width="0.55">JUNE</text>
<text transform="translate(578.4 1027) rotate(-45)" font-family="Liberation Sans, sans-serif" font-size="15.2" fill="#6d6e71" text-anchor="end" stroke="#6d6e71" stroke-width="0.55">JULY</text>
<text transform="translate(627.9 1027) rotate(-45)" font-family="Liberation Sans, sans-serif" font-size="15.2" fill="#6d6e71" text-anchor="end" stroke="#6d6e71" stroke-width="0.55">AUGUST</text>
<text transform="translate(677.4 1027) rotate(-45)" font-family="Liberation Sans, sans-serif" font-size="15.2" fill="#6d6e71" text-anchor="end" stroke="#6d6e71" stroke-width="0.55">SEPTEMBER</text>
<text transform="translate(726.9 1027) rotate(-45)" font-family="Liberation Sans, sans-serif" font-size="15.2" fill="#6d6e71" text-anchor="end" stroke="#6d6e71" stroke-width="0.55">OCTOBER</text>
<text transform="translate(776.4 1027) rotate(-45)" font-family="Liberation Sans, sans-serif" font-size="15.2" fill="#6d6e71" text-anchor="end" stroke="#6d6e71" stroke-width="0.55">NOVEMBER</text>
<text transform="translate(825.8 1027) rotate(-45)" font-family="Liberation Sans, sans-serif" font-size="15.2" fill="#6d6e71" text-anchor="end" stroke="#6d6e71" stroke-width="0.55">DECEMBER</text>
<text transform="translate(875.3 1027) rotate(-45)" font-family="Liberation Sans, sans-serif" font-size="15.2" fill="#6d6e71" text-anchor="end" stroke="#6d6e71" stroke-width="0.55">JANUARY</text>
<text transform="translate(924.8 1027) rotate(-45)" font-family="Liberation Sans, sans-serif" font-size="15.2" fill="#6d6e71" text-anchor="end" stroke="#6d6e71" stroke-width="0.55">FEBRUARY</text>
<text transform="translate(974.3 1027) rotate(-45)" font-family="Liberation Sans, sans-serif" font-size="15.2" fill="#6d6e71" text-anchor="end" stroke="#6d6e71" stroke-width="0.55">MARCH</text>
<text transform="translate(1023.8 1027) rotate(-45)" font-family="Liberation Sans, sans-serif" font-size="15.2" fill="#6d6e71" text-anchor="end" stroke="#6d6e71" stroke-width="0.55">APRIL</text>
<text transform="translate(1073.2 1027) rotate(-45)" font-family="Liberation Sans, sans-serif" font-size="15.2" fill="#6d6e71" text-anchor="end" stroke="#6d6e71" stroke-width="0.55">MAY</text>
<text transform="translate(1122.7 1027) rotate(-45)" font-family="Liberation Sans, sans-serif" font-size="15.2" fill="#6d6e71" text-anchor="end" stroke="#6d6e71" stroke-width="0.55">JUNE</text>
<text transform="translate(1172.2 1027) rotate(-45)" font-family="Liberation Sans, sans-serif" font-size="15.2" fill="#6d6e71" text-anchor="end" stroke="#6d6e71" stroke-width="0.55">JULY</text>
<text transform="translate(1221.7 1027) rotate(-45)" font-family="Liberation Sans, sans-serif" font-size="15.2" fill="#6d6e71" text-anchor="end" stroke="#6d6e71" stroke-width="0.55">AUGUST</text>
<text transform="translate(1271.2 1027) rotate(-45)" font-family="Liberation Sans, sans-serif" font-size="15.2" fill="#6d6e71" text-anchor="end" stroke="#6d6e71" stroke-width="0.55">SEPTEMBER</text>
<text transform="translate(1320.6 1027) rotate(-45)" font-family="Liberation Sans, sans-serif" font-size="15.2" fill="#6d6e71" text-anchor="end" stroke="#6d6e71" stroke-width="0.55">OCTOBER</text>
<text transform="translate(1374.7 1027) rotate(-45)" font-family="Liberation Sans, sans-serif" font-size="15.2" fill="#6d6e71" text-anchor="end" stroke="#6d6e71" stroke-width="0.55">NOVEMBER</text>
<rect x="175" y="1103.5" width="95" height="28.5" fill="#939598"/>
<rect x="270" y="1103.5" width="598" height="28.5" fill="#b5b9bc"/>
<rect x="868" y="1103.5" width="498.7" height="28.5" fill="#6d6a6b"/>
<text x="223.6" y="1127" font-family="Liberation Sans, sans-serif" font-size="24" fill="#fff" text-anchor="middle" font-weight="bold" letter-spacing="0.8" stroke="#939598" stroke-width="0.35">2024</text>
<text x="542.1" y="1127" font-family="Liberation Sans, sans-serif" font-size="24" fill="#fff" text-anchor="middle" font-weight="bold" letter-spacing="0.8" stroke="#b5b9bc" stroke-width="0.35">2025</text>
<text x="1123.7" y="1127" font-family="Liberation Sans, sans-serif" font-size="24" fill="#fff" text-anchor="middle" font-weight="bold" letter-spacing="0.8" stroke="#6d6a6b" stroke-width="0.35">2026</text>
<text x="294.6" y="81.8" font-family="Liberation Sans, sans-serif" font-size="46" fill="#6d6e71" text-anchor="start" font-weight="bold" textLength="193.0" lengthAdjust="spacingAndGlyphs" stroke="#fff" stroke-width="0.5">Nechako</text>
<text x="498.1" y="81.8" font-family="Liberation Sans, sans-serif" font-size="46" fill="#6d6e71" text-anchor="start" font-weight="bold" textLength="207.6" lengthAdjust="spacingAndGlyphs" stroke="#fff" stroke-width="0.5">Reservoir</text>
<text x="719.0" y="81.8" font-family="Liberation Sans, sans-serif" font-size="46" fill="#6d6e71" text-anchor="start" font-weight="bold" textLength="130.2" lengthAdjust="spacingAndGlyphs" stroke="#fff" stroke-width="0.5">Water</text>
<text x="863.3" y="81.8" font-family="Liberation Sans, sans-serif" font-size="46" fill="#6d6e71" text-anchor="start" font-weight="bold" textLength="116.7" lengthAdjust="spacingAndGlyphs" stroke="#fff" stroke-width="0.5">Level</text>
<text x="993.3" y="81.8" font-family="Liberation Sans, sans-serif" font-size="46" fill="#6d6e71" text-anchor="start" font-weight="bold" textLength="226.3" lengthAdjust="spacingAndGlyphs" stroke="#fff" stroke-width="0.5">Projection</text>
<text x="571.1" y="137.6" font-family="Liberation Sans, sans-serif" font-size="46" fill="#6d6e71" text-anchor="start" font-weight="bold" textLength="48.5" lengthAdjust="spacingAndGlyphs" stroke="#fff" stroke-width="0.5">16</text>
<text x="632" y="137.6" font-family="Liberation Sans, sans-serif" font-size="46" fill="#6d6e71" text-anchor="start" font-weight="bold" textLength="179.4" lengthAdjust="spacingAndGlyphs" stroke="#fff" stroke-width="0.5">October</text>
<text x="827.3" y="137.6" font-family="Liberation Sans, sans-serif" font-size="46" fill="#6d6e71" text-anchor="start" font-weight="bold" textLength="113.7" lengthAdjust="spacingAndGlyphs" stroke="#fff" stroke-width="0.5">2025</text>
</svg>
</body></html>
